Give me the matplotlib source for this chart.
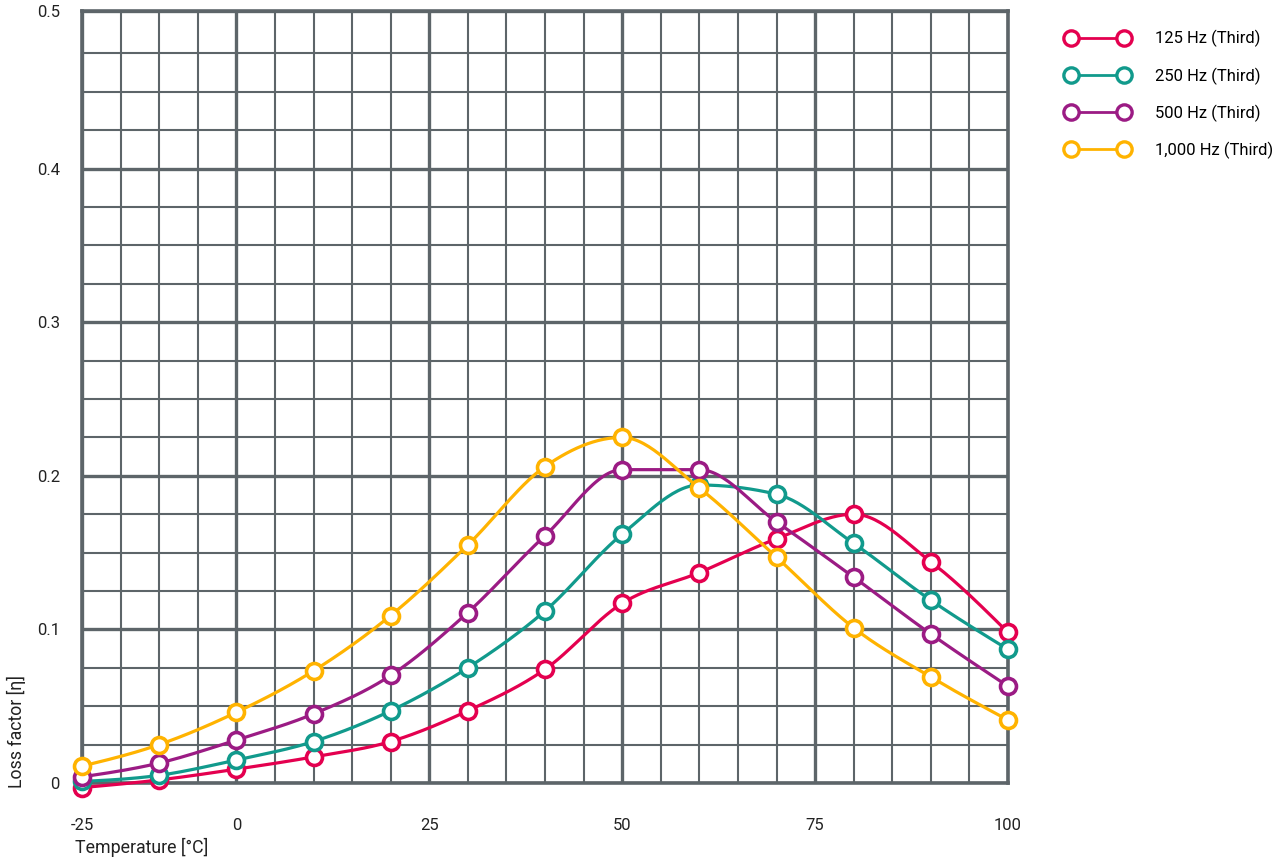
import numpy as np
import matplotlib
matplotlib.use("Agg")
import matplotlib.pyplot as plt
from matplotlib.ticker import FixedLocator

plt.rcParams["font.family"] = ["Roboto", "DejaVu Sans"]

# data
temps = [-20, -10, 0, 10, 20, 30, 40, 50, 60, 70, 80, 90, 100]
hz125 = [-0.003, 0.002, 0.009, 0.017, 0.027, 0.047, 0.074, 0.117, 0.137, 0.159, 0.175, 0.144, 0.098]
hz250 = [0.001, 0.005, 0.015, 0.027, 0.047, 0.075, 0.112, 0.162, 0.194, 0.188, 0.156, 0.119, 0.087]
hz500 = [0.004, 0.013, 0.028, 0.045, 0.070, 0.111, 0.161, 0.204, 0.204, 0.170, 0.134, 0.097, 0.063]
hz1000 = [0.011, 0.025, 0.046, 0.073, 0.109, 0.155, 0.206, 0.225, 0.192, 0.147, 0.101, 0.069, 0.041]

labels = ["125 Hz (Third)", "250 Hz (Third)", "500 Hz (Third)", "1,000 Hz (Third)"]
colors = ["#e4004f", "#119a8c", "#9b1b84", "#ffb300"]
series = [hz125, hz250, hz500, hz1000]

# the outer ticks sit on the frame edges in the original
x_ticks = [-20, 0, 25, 50, 75, 100]
x_ticklabels = ["-25", "0", "25", "50", "75", "100"]
y_top = 0.5026
y_ticks = [0, 0.1, 0.2, 0.3, 0.4, y_top]
y_ticklabels = ["0", "0.1", "0.2", "0.3", "0.4", "0.5"]

grid_col = "#5d6569"


def monotone(xs, ys, steps=30):
    # monotone cubic (Fritsch-Carlson style) just for drawing the line
    x = np.asarray(xs, float)
    y = np.asarray(ys, float)
    h = np.diff(x)
    s = np.diff(y) / h
    m = np.zeros_like(y)
    for i in range(1, len(y) - 1):
        s0, s1 = s[i - 1], s[i]
        p = (s0 * h[i] + s1 * h[i - 1]) / (h[i - 1] + h[i])
        m[i] = (np.sign(s0) + np.sign(s1)) * min(abs(s0), abs(s1), 0.5 * abs(p))
    m[0] = (3 * s[0] - m[1]) / 2
    m[-1] = (3 * s[-1] - m[-2]) / 2
    px, py = [], []
    t = np.linspace(0, 1, steps)
    for i in range(len(h)):
        h00 = 2 * t ** 3 - 3 * t ** 2 + 1
        h10 = t ** 3 - 2 * t ** 2 + t
        h01 = -2 * t ** 3 + 3 * t ** 2
        h11 = t ** 3 - t ** 2
        seg = h00 * y[i] + h10 * h[i] * m[i] + h01 * y[i + 1] + h11 * h[i] * m[i + 1]
        sx = x[i] + t * h[i]
        if i > 0:
            sx, seg = sx[1:], seg[1:]
        px.append(sx)
        py.append(seg)
    return np.concatenate(px), np.concatenate(py)


fig = plt.figure(figsize=(12.83, 8.63), dpi=100)
ax = fig.add_axes([82 / 1283, 1 - 783 / 863, (1008 - 82) / 1283, (783 - 11) / 863])

ax.set_xlim(-20, 100)
ax.set_ylim(0, y_top)
ax.set_xticks(x_ticks)
ax.set_xticklabels(x_ticklabels)
ax.set_yticks(y_ticks)
ax.set_yticklabels(y_ticklabels)
ax.xaxis.set_minor_locator(FixedLocator([v for v in range(-15, 100, 5) if v not in x_ticks]))
ax.yaxis.set_minor_locator(FixedLocator([k * 0.025 for k in range(1, 20) if k % 4]))
ax.tick_params(which="both", length=0, labelsize=12, colors="#222222")
ax.tick_params(axis="x", pad=25)
ax.tick_params(axis="y", pad=16)
ax.grid(which="minor", color=grid_col, linewidth=1.5, zorder=0)
ax.grid(which="major", color=grid_col, linewidth=2.4, zorder=0)
ax.set_axisbelow(True)
for s in ax.spines.values():
    s.set_color(grid_col)
    s.set_linewidth(2.6)

handles = [None] * 4
for i in [3, 2, 1, 0]:
    sx, sy = monotone(temps, series[i])
    ax.plot(sx, sy, color=colors[i], linewidth=2.3, zorder=3 + i, clip_on=False)
    ax.plot(temps, series[i], linestyle="none", marker="o", markersize=11.5,
            markerfacecolor="white", markeredgecolor=colors[i], markeredgewidth=2.6,
            zorder=3.5 + i, clip_on=False)
    handles[i] = plt.Line2D([], [], color=colors[i], linewidth=2.0, marker="o",
                            markersize=11, markerfacecolor="white",
                            markeredgecolor=colors[i], markeredgewidth=2.4)

fig.legend(handles, labels, loc="upper left", bbox_to_anchor=(1051 / 1283, 1 - 15 / 863),
           frameon=False, numpoints=2, handlelength=3.8, handletextpad=1.55,
           labelspacing=1.2, fontsize=12)

fig.text(75 / 1283, 1 - 847 / 863, "Temperature [°C]", ha="left", va="center", fontsize=12.8,
         color="#222222")
fig.text(16 / 1283, 1 - 788 / 863, "Loss factor [η]", ha="center", va="bottom", rotation=90,
         fontsize=12.8, color="#222222")

fig.savefig("out.png", dpi=100)
